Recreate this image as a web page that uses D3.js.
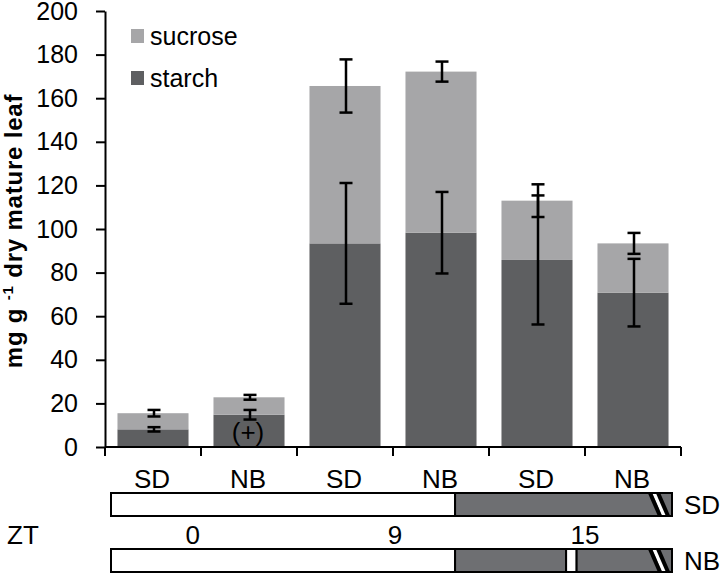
<!DOCTYPE html>
<html>
<head>
<meta charset="utf-8">
<script src="https://cdn.jsdelivr.net/npm/d3@7"></script>
<style>
  body { margin: 0; background: #fff; }
  svg { font-family: "Liberation Sans", Arial, sans-serif; }
</style>
</head>
<body>
<script>
// chart data
const categories = ["SD", "NB", "SD", "NB", "SD", "NB"];
const starch = [8.1, 14.8, 93.4, 98.3, 85.8, 70.8];
const sucrose = [7.4, 8.0, 72.2, 73.9, 27.2, 22.6];
const starchErr = [1.0, 2.2, 27.7, 18.7, 29.6, 15.5];
const totalErr = [1.5, 1.1, 12.2, 4.6, 7.5, 4.8];
const yTicks = [0, 20, 40, 60, 80, 100, 120, 140, 160, 180, 200];
const seriesNames = ["starch", "sucrose"];

// light schedule diagram (schematic hours)
const scheduleRows = ["SD", "NB"];
const schedule = {
    SD: [[0, 14.72, "light"], [14.72, 24, "dark"]],
    NB: [[0, 14.72, "light"], [14.72, 19.47, "dark"], [19.47, 19.92, "light"], [19.92, 24, "dark"]]
};
const ztLabels = ["0", "9", "15"];
const ztHours = [3.5, 12.15, 20.28];

const svg = d3.select("body").append("svg").attr("width", 720).attr("height", 575);

// scales
const y = d3.scaleLinear().domain([0, 200]).range([447, 11]);
const x = d3.scaleBand().domain(d3.range(categories.length)).range([105, 681])
    .paddingInner(0.26).paddingOuter(0.13);
const color = d3.scaleOrdinal().domain(seriesNames).range(["#5e5f61", "#a6a6a8"]);

// stacked bars
const table = categories.map((c, i) => ({ idx: i, starch: starch[i], sucrose: sucrose[i] }));
const stacked = d3.stack().keys(seriesNames)(table);
svg.append("g").selectAll("g").data(stacked).join("g")
    .attr("fill", d => color(d.key))
    .selectAll("rect").data(d => d).join("rect")
    .attr("x", d => x(d.data.idx))
    .attr("y", d => y(d[1]))
    .attr("width", x.bandwidth())
    .attr("height", d => y(d[0]) - y(d[1]));

// (+) marker on the second bar
svg.append("text").attr("x", x(1) + x.bandwidth() / 2 - 1).attr("y", 441)
    .attr("text-anchor", "middle").style("font-size", "26px").text("(+)");

// error bars
const errs = [];
table.forEach((d, i) => {
    errs.push({ i: i, v: starch[i], e: starchErr[i] });
    errs.push({ i: i, v: starch[i] + sucrose[i], e: totalErr[i] });
});
const eg = svg.append("g").attr("stroke", "#000").attr("stroke-width", 2.5);
eg.selectAll("g").data(errs).join("g").each(function (d) {
    const cx = x(d.i) + x.bandwidth() / 2 + 1;
    const g = d3.select(this);
    g.append("line").attr("x1", cx).attr("x2", cx).attr("y1", y(d.v - d.e)).attr("y2", y(d.v + d.e));
    [d.v - d.e, d.v + d.e].forEach(v => {
        g.append("line").attr("x1", cx - 6.5).attr("x2", cx + 6.5).attr("y1", y(v)).attr("y2", y(v));
    });
});

// y axis
const yAxis = svg.append("g").attr("transform", "translate(105,0)")
    .call(d3.axisLeft(y).tickValues(yTicks).tickSize(9).tickSizeOuter(0).tickPadding(18));
yAxis.selectAll("text").style("font-size", "25px").attr("fill", "#000");
yAxis.selectAll("line, path").attr("stroke", "#000").attr("stroke-width", 2);

// x axis: baseline, boundary ticks, labels
const xg = svg.append("g");
xg.append("line").attr("x1", 105).attr("x2", 681).attr("y1", y(0)).attr("y2", y(0))
    .attr("stroke", "#000").attr("stroke-width", 2);
const bounds = d3.range(categories.length + 1).map(i => 105 + i * x.step());
xg.selectAll(".bt").data(bounds).join("line").attr("class", "bt")
    .attr("x1", d => d).attr("x2", d => d).attr("y1", y(0)).attr("y2", y(0) + 9)
    .attr("stroke", "#000").attr("stroke-width", 2);
xg.selectAll(".xl").data(categories).join("text").attr("class", "xl")
    .attr("x", (d, i) => x(i) + x.bandwidth() / 2 - 1).attr("y", 488)
    .attr("text-anchor", "middle").style("font-size", "26px").text(d => d);

// y title
const title = svg.append("text").attr("transform", "translate(22,231) rotate(-90)")
    .attr("text-anchor", "middle").style("font-size", "24px").style("font-weight", "bold")
    .style("letter-spacing", "0.8px");
title.append("tspan").text("mg g ");
title.append("tspan").attr("dy", -9).style("font-size", "15px").text("-1");
title.append("tspan").attr("dy", 9).text(" dry mature leaf");

// legend
const legend = svg.append("g");
seriesNames.slice().reverse().forEach((s, i) => {
    legend.append("rect").attr("x", 131).attr("y", 29 + i * 42).attr("width", 13).attr("height", 14)
        .attr("fill", color(s));
    legend.append("text").attr("x", 150).attr("y", 45 + i * 42).style("font-size", "25px").text(s);
});

// light schedule diagram
const t = d3.scaleLinear().domain([0, 24]).range([111, 672]);
const rowY = { SD: 493, NB: 549 };
const rowH = 23;
scheduleRows.forEach(r => {
    const g = svg.append("g");
    g.selectAll("rect").data(schedule[r]).join("rect")
        .attr("x", d => t(d[0])).attr("y", rowY[r]).attr("width", d => t(d[1]) - t(d[0])).attr("height", rowH)
        .attr("fill", d => d[2] === "light" ? "#fff" : "#6e6f72")
        .attr("stroke", "#000").attr("stroke-width", 2);
    // break marks near the end
    const hx = t(23.06);
    g.append("polygon")
        .attr("points", `${hx + 2},${rowY[r]} ${hx + 8},${rowY[r]} ${hx + 18},${rowY[r] + rowH} ${hx + 12},${rowY[r] + rowH}`)
        .attr("fill", "#fff");
    [0, 8].forEach(o => {
        g.append("line").attr("x1", hx + o).attr("y1", rowY[r]).attr("x2", hx + o + 10).attr("y2", rowY[r] + rowH)
            .attr("stroke", "#000").attr("stroke-width", 4);
    });
    g.append("rect").attr("x", t(0)).attr("y", rowY[r]).attr("width", t(24) - t(0)).attr("height", rowH)
        .attr("fill", "none").attr("stroke", "#000").attr("stroke-width", 2);
    g.append("text").attr("x", 684).attr("y", rowY[r] + rowH / 2 + 9).style("font-size", "26px").text(r);
});
svg.append("text").attr("x", 7).attr("y", 544).style("font-size", "26px").text("ZT");
svg.selectAll(".zt").data(ztLabels).join("text").attr("class", "zt")
    .attr("x", (d, i) => t(ztHours[i])).attr("y", 544).attr("text-anchor", "middle")
    .style("font-size", "26px").text(d => d);
</script>
</body>
</html>
